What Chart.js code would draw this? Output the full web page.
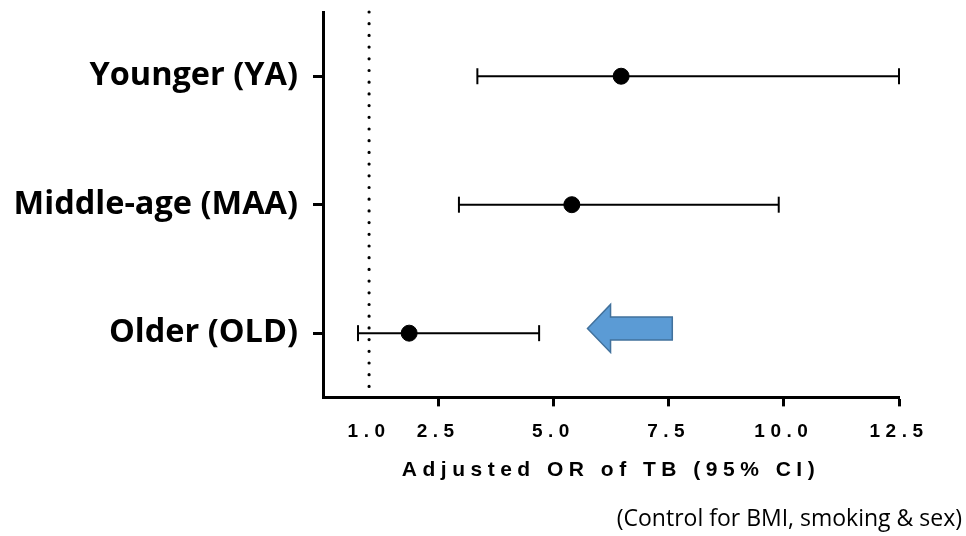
<!DOCTYPE html>
<html>
<head>
<meta charset="utf-8">
<script src="https://cdn.jsdelivr.net/npm/chart.js@4"></script>
<style>
  html, body { margin: 0; padding: 0; background: #fff; }
</style>
</head>
<body>
<canvas id="orChart" width="966" height="536"></canvas>
<script>
// age groups, top to bottom
const groups = ['Younger (YA)', 'Middle-age (MAA)', 'Older (OLD)'];
const adjustedOR = [6.47, 5.40, 1.87];
const ciLower = [3.35, 2.95, 0.76];
const ciUpper = [12.5, 9.89, 4.69];
const xTicks = [1.0, 2.5, 5.0, 7.5, 10.0, 12.5];
const refValue = 1.0;

const tickFont = 'Liberation Sans, Arial, sans-serif';
const labelFont = 'Open Sans, Lato, sans-serif';

// the chart area top/bottom in y units (one row per group)
const yMin = 0.5;
const yMax = groups.length + 0.5;

const ciSets = groups.map((g, i) => ({
    type: 'line',
    label: g + ' 95% CI',
    data: [{ x: ciLower[i], y: i + 1 }, { x: ciUpper[i], y: i + 1 }],
    borderColor: '#000',
    borderWidth: 2,
    pointStyle: 'line',
    rotation: 90,
    pointRadius: 8,
    pointHoverRadius: 8,
    pointBorderWidth: 2,
    pointBorderColor: '#000',
    clip: false
}));

// no extra room for edge labels, the layout is fixed by hand
function noEdgePadding(s) {
    s.paddingTop = 0;
    s.paddingBottom = 0;
    s.paddingLeft = 0;
    s.paddingRight = 0;
}

// arrow note + letter spacing for the x axis texts (drawn after datasets)
const arrowPlugin = {
    id: 'arrowNote',
    afterDatasetsDraw(chart, args, opts) {
        const { ctx, scales: { x, y } } = chart;
        const tipX = x.getPixelForValue(opts.tip);
        const neckX = x.getPixelForValue(opts.neck);
        const tailX = x.getPixelForValue(opts.tail);
        const cy = y.getPixelForValue(opts.row);
        const hh = opts.headHalf, sh = opts.shaftHalf;
        ctx.save();
        ctx.beginPath();
        ctx.moveTo(tipX, cy);
        ctx.lineTo(neckX, cy - hh);
        ctx.lineTo(neckX, cy - sh);
        ctx.lineTo(tailX, cy - sh);
        ctx.lineTo(tailX, cy + sh);
        ctx.lineTo(neckX, cy + sh);
        ctx.lineTo(neckX, cy + hh);
        ctx.closePath();
        ctx.fillStyle = opts.fill;
        ctx.fill();
        ctx.lineWidth = 1.5;
        ctx.strokeStyle = opts.stroke;
        ctx.stroke();
        ctx.restore();
        ctx.letterSpacing = opts.axisSpacing;
    },
    afterDraw(chart) {
        chart.ctx.letterSpacing = '0px';
    }
};

const ctx = document.getElementById('orChart').getContext('2d');
const orChart = new Chart(ctx, {
    type: 'scatter',
    data: {
        datasets: [
            {
                label: 'Adjusted OR',
                data: groups.map((g, i) => ({ x: adjustedOR[i], y: i + 1 })),
                pointRadius: 8,
                pointHoverRadius: 8,
                backgroundColor: '#000',
                borderColor: '#000',
                clip: false
            },
            ...ciSets,
            {
                type: 'line',
                label: 'OR = 1',
                data: [{ x: refValue, y: yMin }, { x: refValue, y: yMax }],
                borderColor: '#000',
                borderWidth: 3.2,
                borderDash: [0, 11.7],
                borderCapStyle: 'round',
                pointRadius: 0,
                clip: false
            }
        ]
    },
    options: {
        responsive: false,
        animation: false,
        events: [],
        layout: { padding: { top: 12, right: 4, bottom: 3, left: 0 } },
        plugins: {
            legend: { display: false },
            tooltip: { enabled: false },
            subtitle: {
                display: true,
                position: 'bottom',
                align: 'end',
                text: '(Control for BMI, smoking & sex)',
                color: '#000',
                font: { family: labelFont, size: 23, weight: 'normal', lineHeight: 1.2 },
                padding: { top: 0, bottom: 0 }
            },
            arrowNote: {
                tip: 5.74, neck: 6.24, tail: 7.58, row: 2.963,
                headHalf: 24, shaftHalf: 11.5,
                fill: '#5b9bd5', stroke: '#41719c',
                axisSpacing: '5.5px'
            }
        },
        scales: {
            x: {
                type: 'linear',
                min: 0,
                max: 12.5,
                afterBuildTicks: s => { s.ticks = xTicks.map(v => ({ value: v })); },
                afterFit: s => { s.height = 108; noEdgePadding(s); },
                border: { display: true, color: '#000', width: 3, z: 1 },
                grid: {
                    z: 1,
                    drawOnChartArea: false,
                    drawTicks: true,
                    tickLength: 9,
                    tickWidth: 3,
                    tickColor: c => (c.tick && c.tick.value === refValue) ? 'rgba(0,0,0,0)' : '#000'
                },
                ticks: {
                    z: 1,
                    color: '#000',
                    padding: 14,
                    autoSkip: false,
                    maxRotation: 0,
                    font: { family: tickFont, size: 19, weight: 'bold', lineHeight: 1.2 },
                    callback: v => Number(v).toFixed(1)
                },
                title: {
                    display: true,
                    text: 'Adjusted OR of TB (95% CI)',
                    color: '#000',
                    font: { family: tickFont, size: 21, weight: 'bold', lineHeight: 1.2 },
                    padding: { top: 0, bottom: 23 }
                }
            },
            y: {
                type: 'linear',
                min: yMin,
                max: yMax,
                reverse: true,
                afterBuildTicks: s => { s.ticks = groups.map((g, i) => ({ value: i + 1 })); },
                afterFit: s => { s.width = 323; noEdgePadding(s); },
                border: { display: true, color: '#000', width: 3 },
                grid: {
                    drawOnChartArea: false,
                    drawTicks: true,
                    tickLength: 10,
                    tickWidth: 3,
                    tickColor: '#000'
                },
                ticks: {
                    color: '#000',
                    padding: 15,
                    autoSkip: false,
                    font: { family: labelFont, size: 32.5, weight: 'bold' },
                    callback: v => groups[v - 1]
                }
            },
            yRight: {
                type: 'linear',
                position: 'right',
                afterFit: s => { s.width = 63; noEdgePadding(s); },
                grid: { display: false },
                border: { display: false },
                ticks: { display: false }
            }
        }
    },
    plugins: [arrowPlugin]
});
</script>
</body>
</html>
